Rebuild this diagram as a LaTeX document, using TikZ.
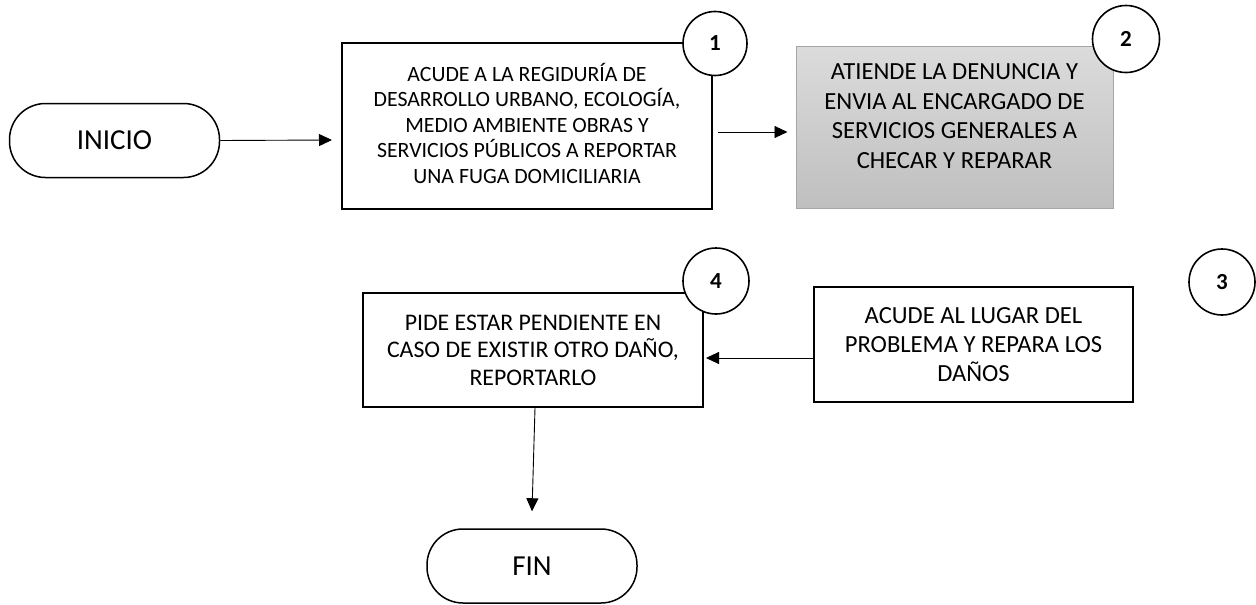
\documentclass[tikz,border=0pt]{standalone}
\usepackage{fontspec}
\setmainfont{Carlito}
\usetikzlibrary{arrows.meta,calc}
\begin{document}
\begin{tikzpicture}[x=1pt,y=-1pt,
  term/.style={draw,line width=1.5pt,rounded corners=36pt,minimum width=210pt,minimum height=74pt,inner sep=0pt,font=\fontsize{29}{34}\selectfont},
  proc/.style={draw,line width=2pt,inner sep=0pt},
  txt/.style={align=center,inner sep=0pt},
  num/.style={draw,circle,line width=1.6pt,fill=white,inner sep=0pt,font=\bfseries\fontsize{23}{26}\selectfont},
  arr/.style={line width=0.9pt,-{Triangle[length=13pt,width=12pt]}}]
\useasboundingbox (0,0) rectangle (1256,605);
% terminals
\node[term] (ini) at (114.5,140.5) {INICIO};
\node[term] (fin) at (532,566) {FIN};
% process 1
\node[proc,minimum width=370pt,minimum height=166pt] (b1) at (527,126) {};
\node[txt,font=\fontsize{21.8}{25.5}\selectfont] (b1t) at ($(b1)+(0,-3)$)
  {ACUDE A LA REGIDURÍA DE\\DESARROLLO URBANO, ECOLOGÍA,\\MEDIO AMBIENTE OBRAS Y\\SERVICIOS PÚBLICOS A REPORTAR\\UNA FUGA DOMICILIARIA};
% process 2 (shaded)
\node[draw=black!35,line width=1pt,top color=black!14,bottom color=black!25,minimum width=317pt,minimum height=162pt,inner sep=0pt] (b2) at (954.5,127) {};
\node[txt,font=\fontsize{24.6}{29.5}\selectfont] (b2t) at ($(b2)+(0,-11)$)
  {ATIENDE LA DENUNCIA Y\\ENVIA AL ENCARGADO DE\\SERVICIOS GENERALES A\\CHECAR Y REPARAR};
% process 3
\node[proc,minimum width=319pt,minimum height=115pt] (b3) at (973.5,344.5) {};
\node[txt,font=\fontsize{24.6}{29}\selectfont] (b3t) at (b3)
  {ACUDE AL LUGAR DEL\\PROBLEMA Y REPARA LOS\\DAÑOS};
% process 4
\node[proc,minimum width=340pt,minimum height=114pt] (b4) at (533,350) {};
\node[txt,font=\fontsize{23.8}{27.5}\selectfont] (b4t) at (b4)
  {PIDE ESTAR PENDIENTE EN\\CASO DE EXISTIR OTRO DAÑO,\\REPORTARLO};
% number circles
\node[num,minimum size=64pt] (c1) at (715,43.5) {1};
\node[num,minimum size=67pt] (c2) at (1126,39) {2};
\node[num,minimum size=66pt] (c4) at (716,281) {4};
\node[num,minimum size=66pt] (c3) at (1222,282) {3};
% connectors
\draw[arr] (ini.east) -- ($(b1.west)+(-9,14)$);
\draw[arr] ($(b1.east)+(5,6)$) -- ($(b2.west)+(-8,5)$);
\draw[arr] ($(b3.west)+(0,13.5)$) -- ($(b4.east)+(2,8)$);
\draw[arr] ($(b4.south)+(2,0)$) -- ($(fin.north)+(0,-17)$);
\end{tikzpicture}
\end{document}
